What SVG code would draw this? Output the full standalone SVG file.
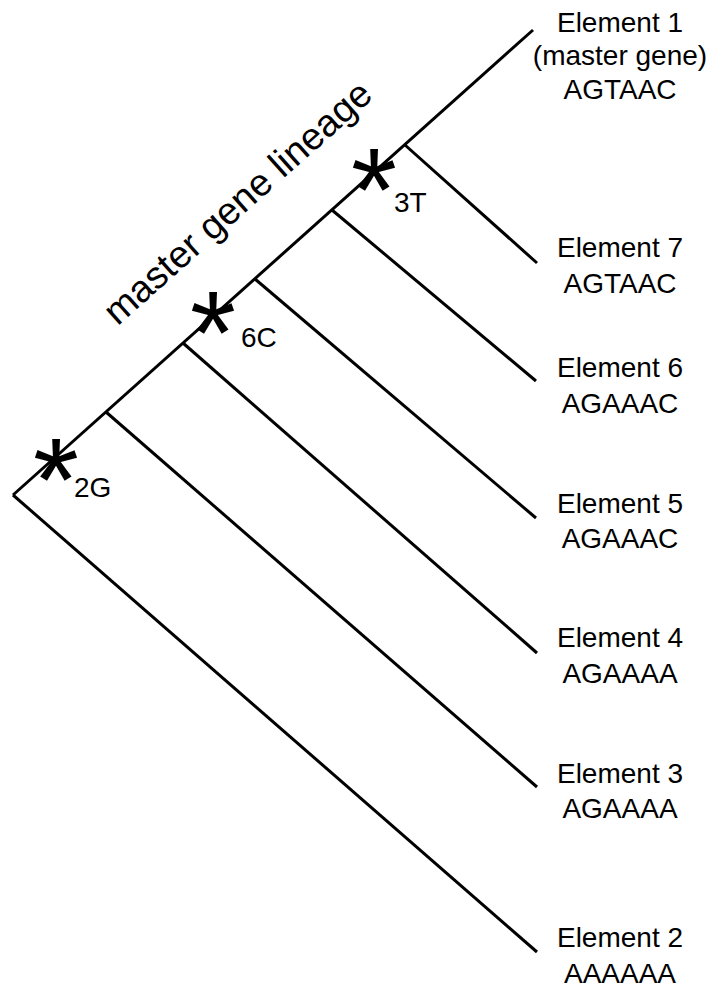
<svg xmlns="http://www.w3.org/2000/svg" width="713" height="990" viewBox="0 0 713 990">
<style>
.ln{stroke:#000;stroke-width:3;fill:none;stroke-linecap:butt}
.lbl{font-family:"Liberation Sans",Arial,sans-serif;font-size:28px;fill:#000;text-anchor:middle}
.mut{font-family:"Liberation Sans",Arial,sans-serif;font-size:28px;fill:#000}
.ast{font-family:"Liberation Sans",Arial,sans-serif;font-size:118px;fill:#000;text-anchor:middle}
.lin{font-family:"Liberation Sans",Arial,sans-serif;font-size:38px;fill:#000;text-anchor:middle}
</style>
<rect width="713" height="990" fill="#fff"/>
<g id="connectors">
<line class="ln" x1="13" y1="495" x2="533" y2="30"/>
<line class="ln" x1="13" y1="495" x2="537" y2="952"/>
<line class="ln" x1="106" y1="412" x2="537" y2="787"/>
<line class="ln" x1="183" y1="343" x2="537" y2="653"/>
<line class="ln" x1="255" y1="279" x2="536" y2="518"/>
<line class="ln" x1="332" y1="210" x2="536" y2="381"/>
<line class="ln" x1="405" y1="145" x2="537" y2="263"/>
</g>
<g id="element1">
<text class="lbl" x="620" y="32">Element 1</text>
<text class="lbl" x="620" y="65">(master gene)</text>
<text class="lbl" x="620" y="99">AGTAAC</text>
</g>
<g id="element7">
<text class="lbl" x="620" y="257">Element 7</text>
<text class="lbl" x="620" y="293">AGTAAC</text>
</g>
<g id="element6">
<text class="lbl" x="620" y="377">Element 6</text>
<text class="lbl" x="620" y="413">AGAAAC</text>
</g>
<g id="element5">
<text class="lbl" x="620" y="513">Element 5</text>
<text class="lbl" x="620" y="548">AGAAAC</text>
</g>
<g id="element4">
<text class="lbl" x="620" y="647">Element 4</text>
<text class="lbl" x="620" y="683">AGAAAA</text>
</g>
<g id="element3">
<text class="lbl" x="620" y="783">Element 3</text>
<text class="lbl" x="620" y="818">AGAAAA</text>
</g>
<g id="element2">
<text class="lbl" x="620" y="947">Element 2</text>
<text class="lbl" x="620" y="983">AAAAAA</text>
</g>
<g id="mutation3T">
<text class="ast" x="374" y="231">*</text>
<text class="mut" x="394" y="212">3T</text>
</g>
<g id="mutation6C">
<text class="ast" x="213" y="374">*</text>
<text class="mut" x="241" y="347">6C</text>
</g>
<g id="mutation2G">
<text class="ast" x="56" y="521">*</text>
<text class="mut" x="74" y="497">2G</text>
</g>
<g id="lineage-label">
<text class="lin" transform="translate(246,212) rotate(-41.7)">master gene lineage</text>
</g>
</svg>
